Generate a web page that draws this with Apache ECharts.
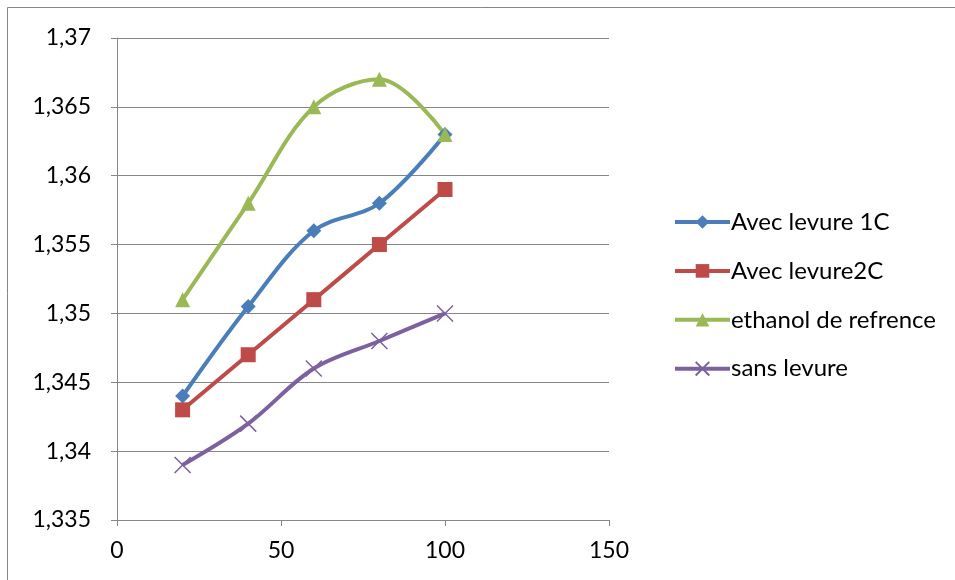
<!DOCTYPE html>
<html><head><meta charset="utf-8">
<script src="https://cdn.jsdelivr.net/npm/echarts@6/dist/echarts.min.js"></script>
<style>html,body{margin:0;padding:0;background:#fff}#c{width:955px;height:580px}</style>
</head><body><div id="c"></div>
<script>
const xValues = [20, 40, 60, 80, 100];
const seriesNames = ['Avec levure 1C', 'Avec levure2C', 'ethanol de refrence', 'sans levure'];
const avecLevure1C = [1.344, 1.3505, 1.356, 1.358, 1.363];
const avecLevure2C = [1.343, 1.347, 1.351, 1.355, 1.359];
const ethanolRef = [1.351, 1.358, 1.365, 1.367, 1.363];
const sansLevure = [1.339, 1.342, 1.346, 1.348, 1.350];
const colors = ['#4a7ebb', '#be4b48', '#98b954', '#7d60a0'];
const symbols = ['diamond', 'rect', 'triangle', 'path://M0,0L10,10M10,0L0,10'];
const sizes = [15, 15, 15, 16];
const allData = [avecLevure1C, avecLevure2C, ethanolRef, sansLevure];

const font = 'Lato, "Open Sans", sans-serif';
const chart = echarts.init(document.getElementById('c'));
chart.setOption({
  animation: false,
  color: colors,
  graphic: [
    {type: 'line', shape: {x1: 7.5, y1: 7.5, x2: 955, y2: 7.5}, style: {stroke: '#868686', lineWidth: 1}},
    {type: 'line', shape: {x1: 7.5, y1: 7.5, x2: 7.5, y2: 580}, style: {stroke: '#868686', lineWidth: 1}}
  ],
  grid: {left: 117, right: 346, top: 38, bottom: 60, containLabel: false},
  legend: {
    orient: 'vertical', left: 668, top: 205, itemWidth: 55, itemHeight: 17, itemGap: 24.9,
    lineStyle: {width: 4},
    textStyle: {fontFamily: font, fontSize: 24, color: '#000', padding: [0, 0, 0, -4]},
    data: seriesNames
  },
  xAxis: {
    type: 'value', min: 0, max: 150, interval: 50,
    axisLine: {lineStyle: {color: '#868686'}},
    axisTick: {show: true, length: 6, lineStyle: {color: '#868686'}},
    splitLine: {show: false},
    axisLabel: {fontFamily: font, fontSize: 23, color: '#000', margin: 19}
  },
  yAxis: {
    type: 'value', min: 1.335, max: 1.37, interval: 0.005,
    axisLine: {show: true, lineStyle: {color: '#868686'}},
    axisTick: {show: true, length: 6, lineStyle: {color: '#868686'}},
    splitLine: {show: true, lineStyle: {color: '#868686'}},
    axisLabel: {fontFamily: font, fontSize: 23, color: '#000', margin: 26,
      formatter: v => Number(v.toFixed(3)).toString().replace('.', ',')}
  },
  series: seriesNames.map((n, i) => ({
    name: n, type: 'line', smooth: 0.35,
    data: xValues.map((x, j) => [x, allData[i][j]]),
    symbol: symbols[i], symbolSize: sizes[i], showSymbol: true,
    lineStyle: {width: 4, color: colors[i]},
    itemStyle: i === 3 ? {color: 'none', borderColor: colors[i], borderWidth: 1.5} : {color: colors[i]}
  }))
});
</script></body></html>
